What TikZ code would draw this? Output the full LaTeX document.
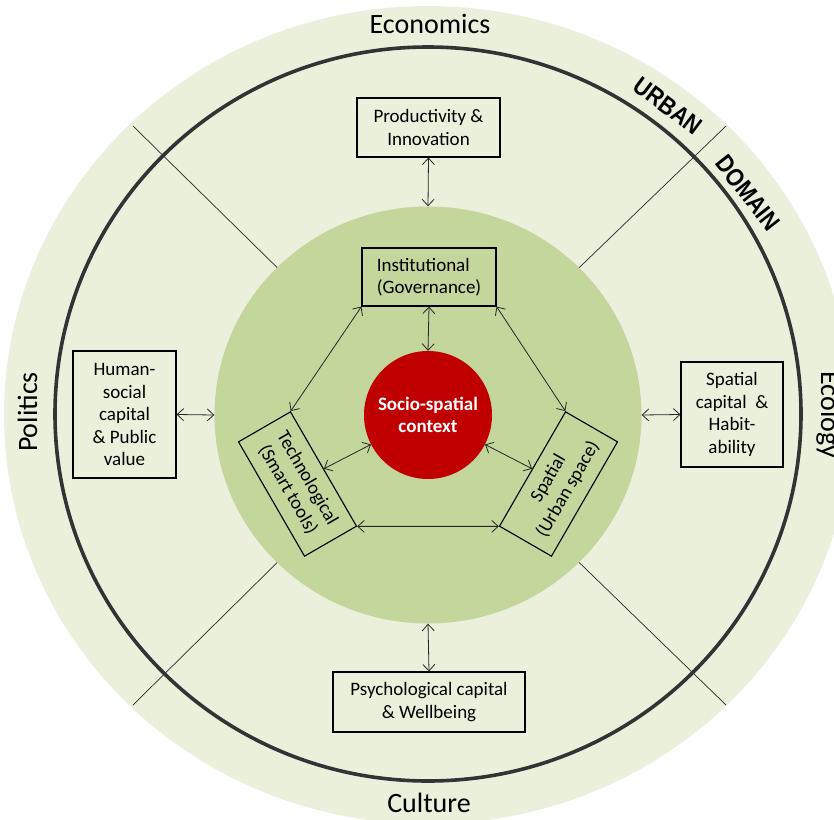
\documentclass[tikz,border=0pt]{standalone}
\usepackage{fontspec}
\setmainfont{Carlito}
\newfontfamily\capsfont{Liberation Sans}
\usetikzlibrary{arrows.meta,shapes.geometric}
\definecolor{bandgreen}{HTML}{EBF0DD}
\definecolor{coregreen}{HTML}{C3D69B}
\definecolor{hubred}{HTML}{C00000}
\definecolor{ringgray}{HTML}{333333}

\begin{document}
\begin{tikzpicture}[x=1pt,y=-1pt,
  box/.style={draw=black, line width=1.1pt, align=center, inner sep=0pt,
    font=\fontsize{19}{22.5}\selectfont},
  link/.style={line width=0.8pt, draw=black!85,
    {Straight Barb[length=6.5pt,width=12pt]}-{Straight Barb[length=6.5pt,width=12pt]}},
  divider/.style={line width=0.7pt, draw=black!85},
  realm/.style={font=\fontsize{28}{30}\selectfont, inner sep=0pt},
  banner/.style={font=\capsfont\bfseries\fontsize{25}{26}\selectfont, inner sep=0pt}]

\useasboundingbox (0,0) rectangle (834,819);
\clip (0,0) rectangle (834,819);

% outer band
\fill[bandgreen] (428,415) ellipse [x radius=424pt, y radius=409pt];

% four spokes splitting the band
\draw[divider] (300,290) -- (133,126);
\draw[divider] (556,290) -- (726,126);
\draw[divider] (300,540) -- (133,705);
\draw[divider] (556,540) -- (726,705);

% urban domain boundary
\draw[ringgray, line width=3.6pt] (428,414) ellipse [x radius=373pt, y radius=367pt];

% core disc
\node[ellipse, fill=coregreen, minimum width=427pt, minimum height=417pt, inner sep=0pt] (core) at (428,415) {};

% hub
\node[circle, fill=hubred, minimum size=128pt, inner sep=0pt, text=white, align=center,
  font=\bfseries\fontsize{19}{22}\selectfont] (hub) at (428,415) {Socio-spatial\\context};

% inner triad
\node[box, align=left, minimum width=134pt, minimum height=58pt] (inst) at (429,277) {Institutional\\(Governance)};
\node[box, rotate=-60, minimum width=132pt, minimum height=60pt] (tech) at (297.5,484) {Technological\\(Smart tools)};
\node[box, rotate=60, minimum width=132pt, minimum height=60pt] (spat) at (558.5,484) {Spatial\\(Urban space)};

% outer capitals
\node[box, minimum width=143pt, minimum height=59pt] (prod) at (428.5,127.5) {Productivity \&\\Innovation};
\node[box, minimum width=103pt, minimum height=127pt] (human) at (124.5,414.5) {Human-\\social\\capital\\\& Public\\value};
\node[box, minimum width=102pt, minimum height=105pt] (habit) at (732,414.5) {Spatial\\capital~~\&\\Habit-\\ability};
\node[box, minimum width=192pt, minimum height=60pt] (psych) at (429,702) {Psychological capital\\\& Wellbeing};

% links
\draw[link] (prod.south) -- (core.north);
\draw[link] (psych.north) -- (core.south);
\draw[link] (human.east) -- (core.west);
\draw[link] (habit.west) -- (core.east);
\draw[link] (inst.south) -- (hub.north);
\draw[link] (tech.north) -- (hub);
\draw[link] (spat.north) -- (hub);
\draw[link] (inst.south west) -- (tech.north west);
\draw[link] (inst.south east) -- (spat.north east);
\draw[link] (tech.north east) -- (spat.north west);

% domain labels
\node[realm, anchor=base] (econ) at (430,33) {Economics};
\node[realm, anchor=base] (cult) at (429,812) {Culture};
\node[realm, anchor=base, rotate=90] (pol) at (37,412) {Politics};
\node[realm, anchor=base, rotate=-90] (eco) at (821,415) {Ecology};

\node[banner, rotate=-37] (urban) at (668,106) {\scalebox{0.86}[1]{URBAN}};
\node[banner, rotate=-52] (dom) at (748,193) {\scalebox{0.86}[1]{DOMAIN}};
\end{tikzpicture}
\end{document}
